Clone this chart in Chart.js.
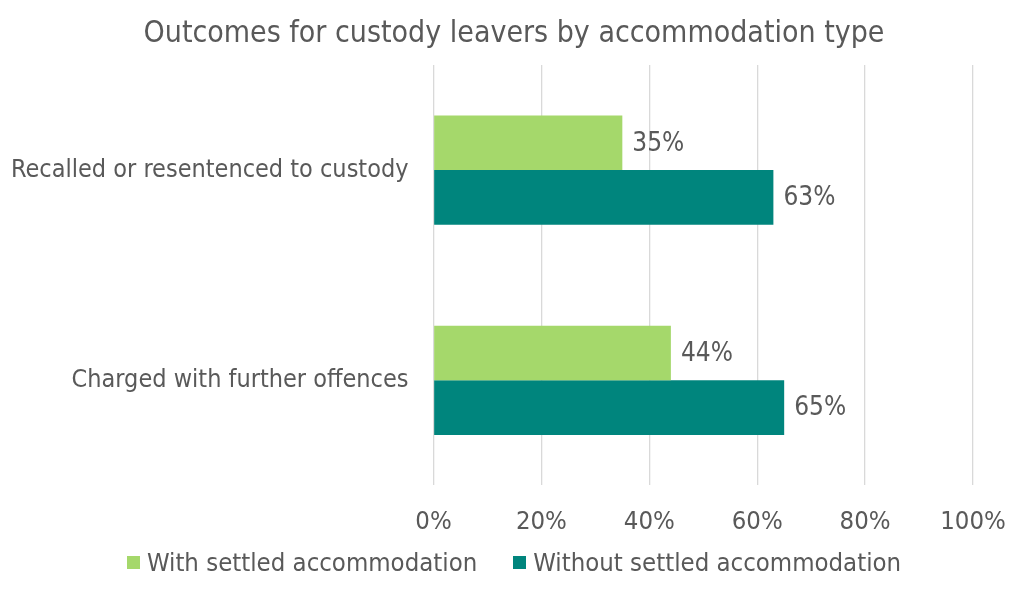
<!DOCTYPE html>
<html lang="en">
<head>
<meta charset="UTF-8">
<title>Outcomes for custody leavers</title>
<script src="https://cdn.jsdelivr.net/npm/chart.js"></script>
<style>
  html, body { margin: 0; padding: 0; background: #fff; }
  #wrap { position: relative; width: 1024px; height: 590px; }
  #wrap canvas { position: absolute; left: 0; top: 0; }
  .title {
    position: absolute; left: 0; top: 14px; width: 1024px; padding-left: 2px;
    text-align: center; color: #595959;
    font: 30px/36px 'DejaVu Sans Condensed', 'DejaVu Sans', sans-serif;
  }
  .legend {
    position: absolute; left: 0; top: 546px; width: 1024px; padding-left: 2px;
    display: flex; justify-content: center; gap: 36px; color: #595959;
    font: 25.5px/32px 'DejaVu Sans Condensed', 'DejaVu Sans', sans-serif;
  }
  .legend span { display: flex; align-items: center; }
  .legend i { display: inline-block; width: 13px; height: 13px; margin-right: 7px; }
</style>
</head>
<body>
<div id="wrap">
  <canvas id="chart" width="1024" height="590"></canvas>
  <div class="title">Outcomes for custody leavers by accommodation type</div>
  <div class="legend" id="legend"></div>
</div>
<script>
const categories = ["Recalled or resentenced to custody", "Charged with further offences"];
const seriesNames = ["With settled accommodation", "Without settled accommodation"];
const withSettled = [35, 44];
const withoutSettled = [63, 65];
const tickValues = [0, 20, 40, 60, 80, 100];
const colours = ["#a5d86b", "#00857d"];

const textColor = "#595959";
const fontFamily = "'DejaVu Sans Condensed', 'DejaVu Sans', sans-serif";

// writes the value next to the end of every bar
const barLabels = {
  id: "barLabels",
  afterDatasetsDraw(chart) {
    const ctx = chart.ctx;
    ctx.save();
    ctx.font = "26px " + fontFamily;
    ctx.fillStyle = textColor;
    ctx.textAlign = "left";
    ctx.textBaseline = "middle";
    chart.data.datasets.forEach((ds, i) => {
      chart.getDatasetMeta(i).data.forEach((bar, j) => {
        ctx.fillText(ds.data[j] + "%", bar.x + 10, bar.y + 1);
      });
    });
    ctx.restore();
  }
};

const chart = new Chart(document.getElementById("chart"), {
  type: "bar",
  data: {
    labels: categories,
    datasets: [
      { label: seriesNames[0], data: withSettled, backgroundColor: colours[0] },
      { label: seriesNames[1], data: withoutSettled, backgroundColor: colours[1] }
    ]
  },
  options: {
    indexAxis: "y",
    responsive: false,
    animation: false,
    layout: { padding: { left: -14, right: 51, top: 65, bottom: 30 } },
    datasets: { bar: { categoryPercentage: 0.52, barPercentage: 1 } },
    scales: {
      x: {
        min: 0, max: 100,
        afterBuildTicks(axis) { axis.ticks = tickValues.map(v => ({ value: v })); },
        // let the layout padding decide where the plot ends on the right
        afterFit(axis) { axis.paddingRight = 0; },
        grid: { color: "#d9d9d9", lineWidth: 1.3, drawTicks: false },
        border: { display: false },
        ticks: {
          color: textColor, padding: 22,
          font: { family: fontFamily, size: 25.5 },
          callback: v => v + "%"
        }
      },
      y: {
        grid: { display: false, drawTicks: false },
        border: { display: false },
        ticks: { color: textColor, padding: 25, font: { family: fontFamily, size: 25 } }
      }
    },
    plugins: {
      title: { display: false },
      legend: { display: false },
      tooltip: { enabled: false }
    }
  },
  plugins: [barLabels]
});

// html legend built from the datasets
const legendEl = document.getElementById("legend");
chart.data.datasets.forEach(ds => {
  const item = document.createElement("span");
  item.innerHTML = `<i style="background:${ds.backgroundColor}"></i>${ds.label}`;
  legendEl.appendChild(item);
});
</script>
</body>
</html>
